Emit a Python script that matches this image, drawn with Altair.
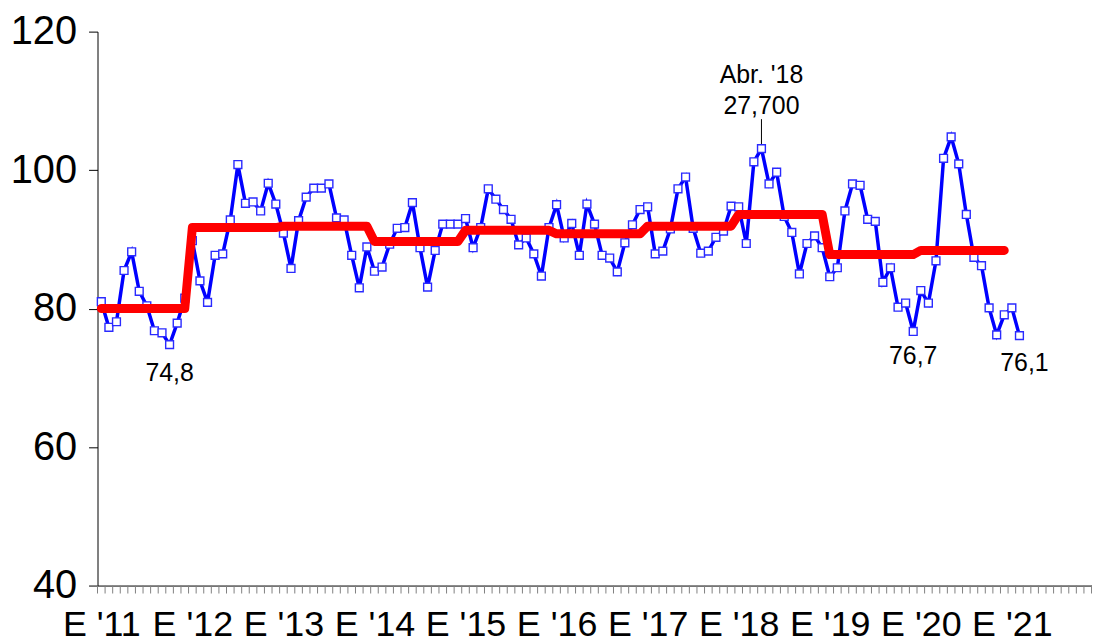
import altair as alt
import pandas as pd

# Monthly index values, Jan 2011 .. Feb 2021
values = [
    81.0, 77.3, 78.1, 85.5, 88.2, 82.5, 80.4, 76.8, 76.5, 74.8, 77.9, 81.5,   # 2011
    89.8, 84.0, 80.9, 87.7, 87.9, 92.8, 100.8, 95.2, 95.4, 94.1, 98.1, 95.1,  # 2012
    90.9, 85.8, 92.7, 96.1, 97.4, 97.4, 98.0, 93.1, 92.8, 87.7, 83.0, 88.9,   # 2013
    85.4, 86.0, 89.3, 91.6, 91.7, 95.3, 88.8, 83.1, 88.4, 92.2, 92.2, 92.2,   # 2014
    93.0, 88.8, 91.7, 97.3, 95.8, 94.3, 92.9, 89.2, 90.2, 87.9, 84.7, 91.7,   # 2015
    95.0, 90.2, 92.3, 87.7, 95.1, 92.2, 87.7, 87.3, 85.3, 89.5, 92.1, 94.3,   # 2016
    94.7, 87.9, 88.3, 91.5, 97.3, 99.0, 91.6, 88.0, 88.3, 90.3, 91.2, 94.8,   # 2017
    94.7, 89.4, 101.2, 103.1, 98.0, 99.7, 93.3, 91.0, 85.0, 89.4, 90.5, 88.8, # 2018
    84.6, 85.9, 94.1, 98.0, 97.8, 92.9, 92.6, 83.8, 85.9, 80.2, 80.8, 76.7,   # 2019
    82.6, 80.8, 86.9, 101.7, 104.8, 100.9, 93.6, 87.4, 86.2, 80.1, 76.2, 79.1,# 2020
    80.1, 76.1,                                                               # 2021
]

# Annual averages 2011 .. 2020 (red line)
annual_avg = [80.0, 91.7, 91.9, 89.7, 91.3, 90.8, 91.9, 93.6, 87.8, 88.4]

year_labels = ["E '11", "E '12", "E '13", "E '14", "E '15", "E '16",
               "E '17", "E '18", "E '19", "E '20", "E '21"]

# Annotations: month index, text, dx, dy
ann_idx = [9, 107, 121, 87, 87]
ann_text = ["74,8", "76,7", "76,1", "Abr. '18", "27,700"]
ann_dx = [0, 0, 5, 0, 0]
ann_dy = [29, 25, 28, -74, -43]

FONT = "Liberation Sans"
STEP = 7.63
W = 1000
H = 557
X_MAX = -0.5 + W / STEP
N_MONTHS = 132

df = pd.DataFrame({"m": list(range(len(values))), "v": values})
red = pd.DataFrame({
    "m": list(range(len(annual_avg) * 12)),
    "v": [annual_avg[i // 12] for i in range(len(annual_avg) * 12)],
})
ann = pd.DataFrame({
    "m": ann_idx,
    "v": [values[i] for i in ann_idx],
    "t": ann_text,
})
# month boundaries for the minor tick marks
bounds = pd.DataFrame({"b": [i - 0.5 for i in range(N_MONTHS + 1) if i - 0.5 <= X_MAX]})

label_js = "[" + ",".join("'" + s.replace("'", "\\'") + "'" for s in year_labels) + "]"

xscale = alt.Scale(domain=[-0.5, X_MAX], nice=False, zero=False)
yscale = alt.Scale(domain=[40, 120], nice=False, zero=False)

xaxis = alt.Axis(
    values=[12 * k for k in range(len(year_labels))],
    labelExpr=f"{label_js}[datum.value / 12]",
    labelOverlap=False,
    labelFlush=False,
    labelBound=False,
    labelFontSize=36,
    labelFont=FONT,
    labelColor="black",
    labelPadding=22,
    ticks=False,
    domainColor="black",
    domainWidth=1,
    grid=False,
    title=None,
)
yaxis = alt.Axis(
    values=[40, 60, 80, 100, 120],
    labelFontSize=40,
    labelFont=FONT,
    labelColor="black",
    labelPadding=12,
    tickSize=9,
    tickColor="black",
    domainColor="black",
    grid=False,
    title=None,
)

x = alt.X("m:Q", scale=xscale, axis=xaxis)
y = alt.Y("v:Q", scale=yscale, axis=yaxis)

blue_line = alt.Chart(df).mark_line(color="#0000FF", strokeWidth=3.5).encode(x=x, y=y)

minor_ticks = alt.Chart(bounds).mark_rule(color="#808080", strokeWidth=1).encode(
    x=alt.X("b:Q", scale=xscale, axis=xaxis), y=alt.value(H), y2=alt.value(H + 8)
)

leader = alt.Chart(ann[ann["t"] == "Abr. '18"]).mark_rule(color="black", strokeWidth=1).encode(
    x=x, y=y, y2=alt.value(88)
)

points = alt.Chart(df).mark_square(
    size=62, filled=True, fill="white", stroke="#2a2aff", strokeWidth=1.4, opacity=1
).encode(x=x, y=y)

red_line = alt.Chart(red).mark_line(
    color="#FF0000", strokeWidth=9, strokeCap="round", strokeJoin="round"
).encode(x=x, y=y)

texts = []
for i in range(len(ann_text)):
    texts.append(
        alt.Chart(ann.iloc[[i]]).mark_text(
            font=FONT, fontSize=25, color="black", align="center", baseline="middle",
            dx=ann_dx[i], dy=ann_dy[i]
        ).encode(x=x, y=y, text="t:N")
    )

chart = alt.layer(blue_line, minor_ticks, leader, points, red_line, *texts).properties(
    width=W,
    height=H,
    autosize=alt.AutoSizeParams(type="none"),
    padding={"left": 90, "top": 22, "right": 0, "bottom": 55},
    background="white",
).configure_view(stroke=None)

chart.save("out.html", embed_options={"renderer": "svg", "actions": False})
